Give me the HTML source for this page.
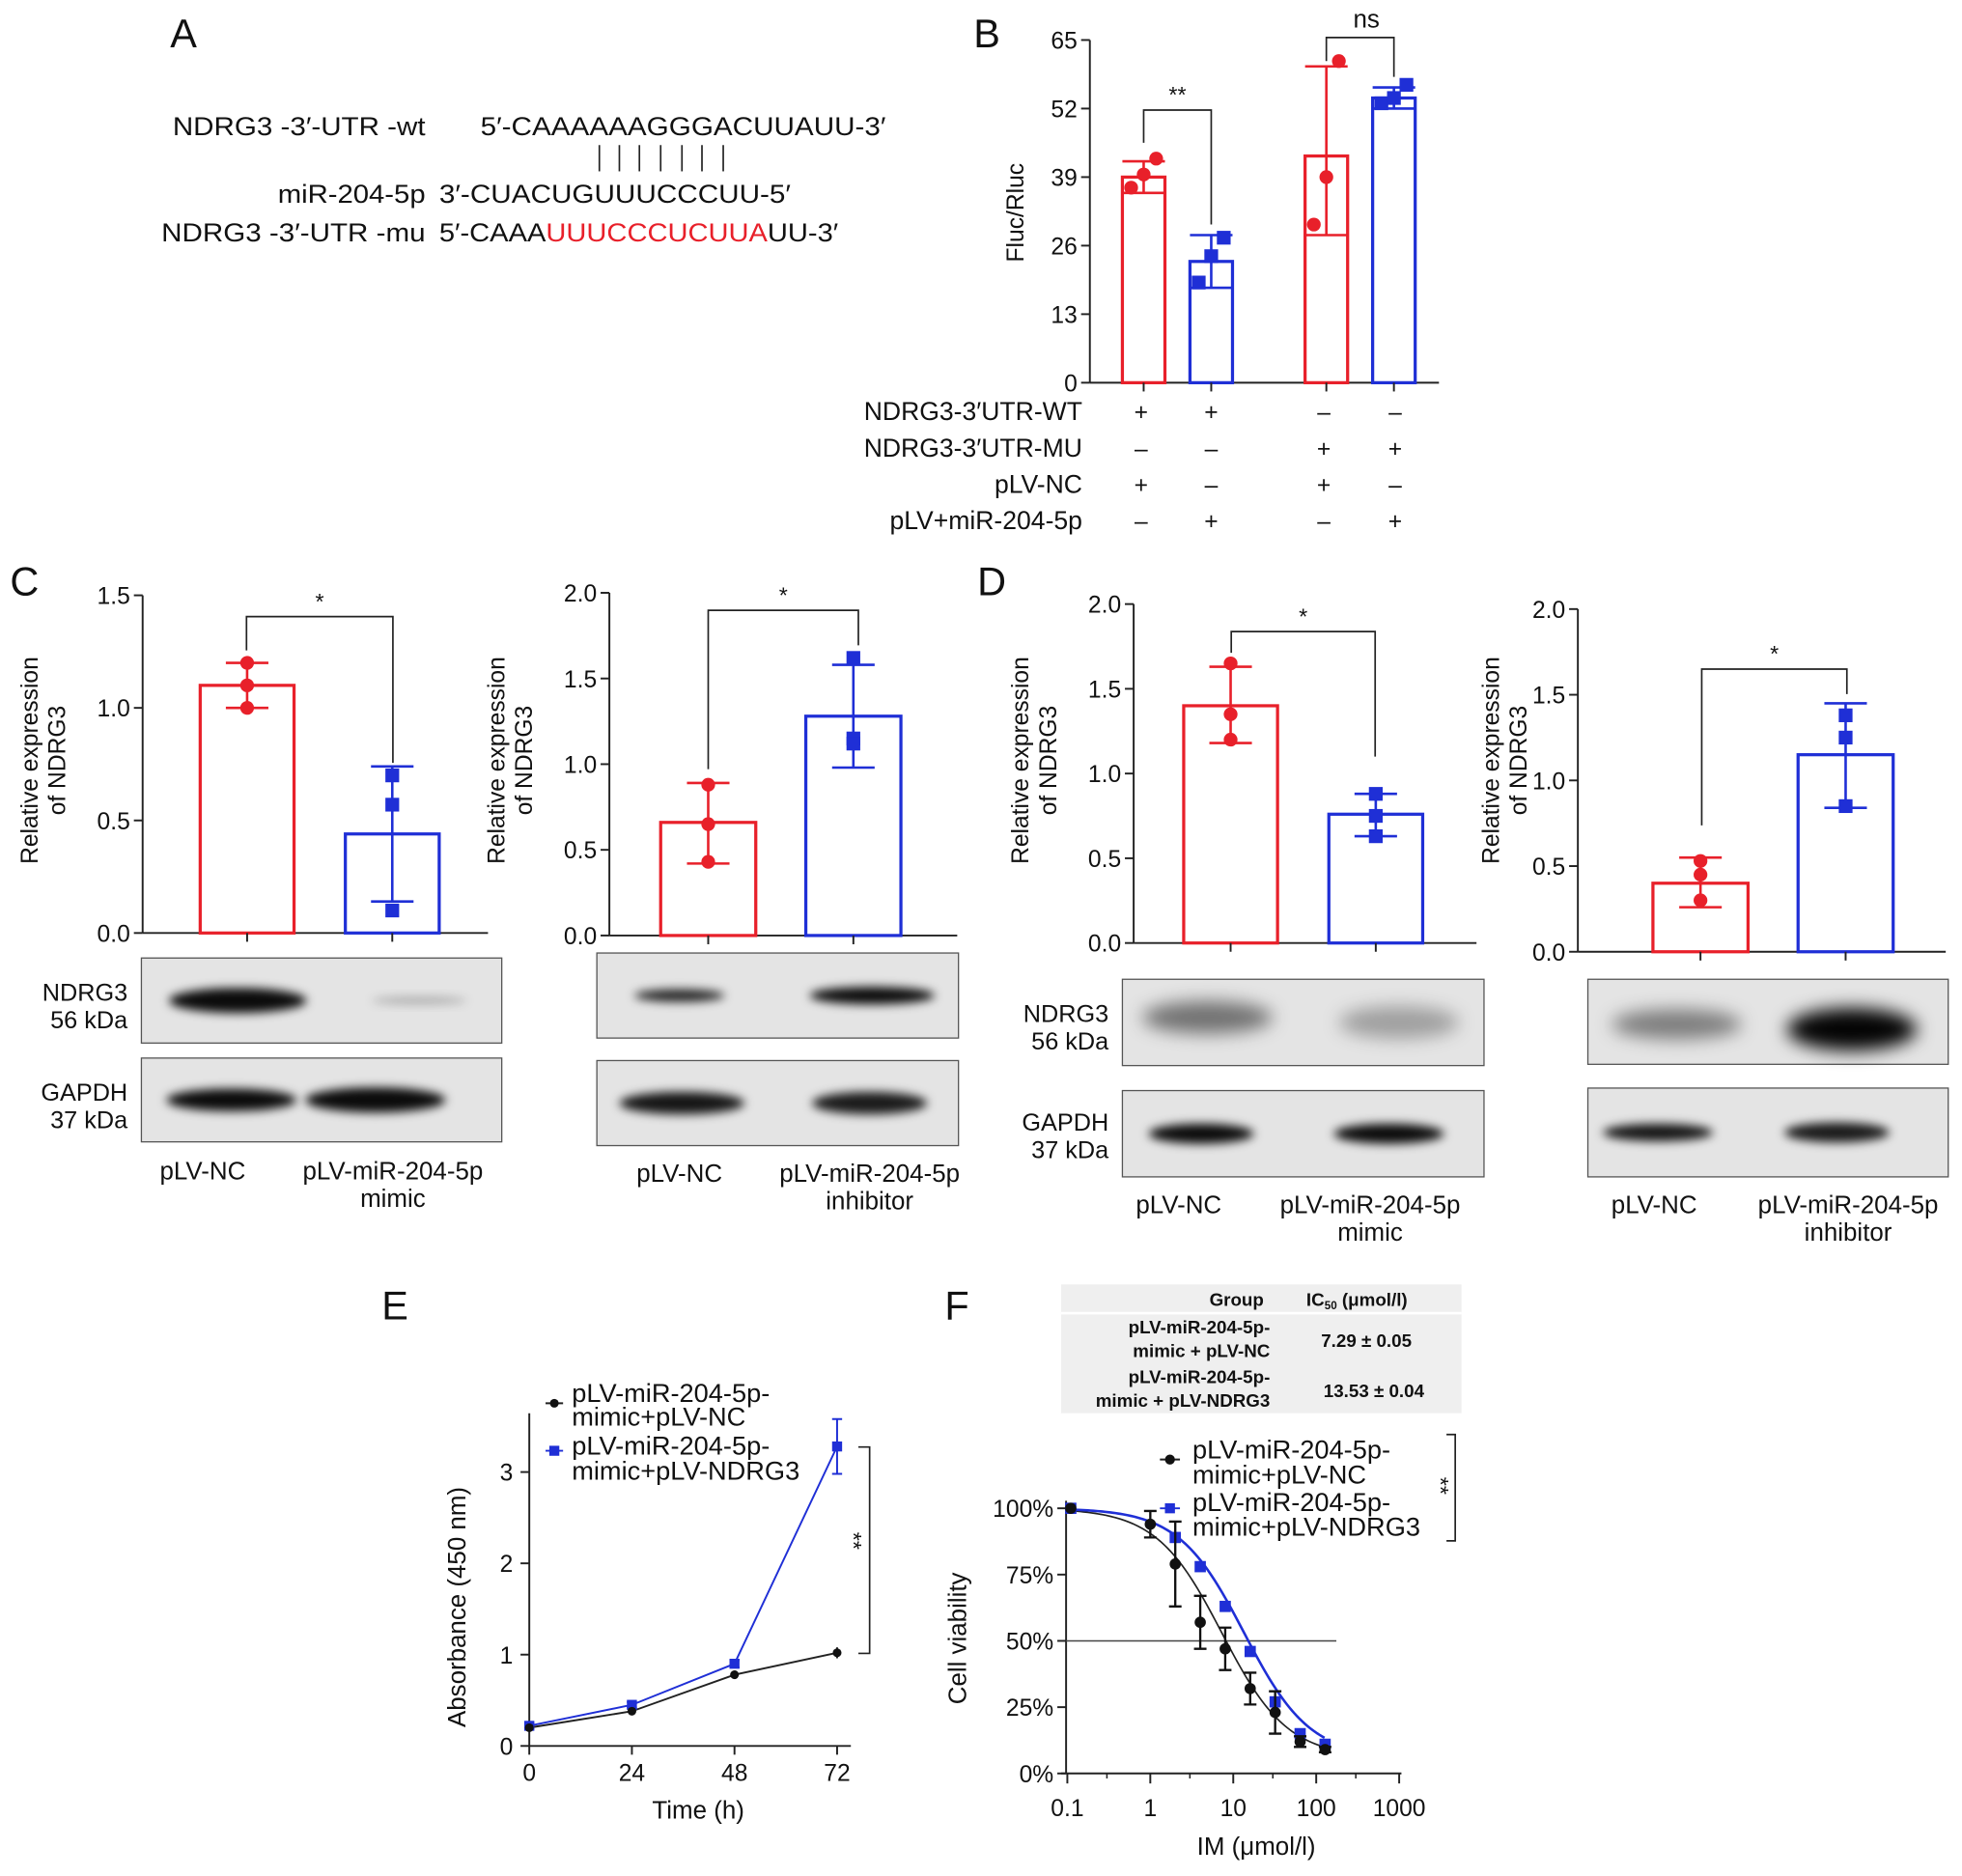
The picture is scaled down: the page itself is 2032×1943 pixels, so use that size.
<!DOCTYPE html>
<html><head><meta charset="utf-8">
<style>
html,body{margin:0;padding:0;background:#fff;}
svg{display:block;font-family:"Liberation Sans",Arial,sans-serif;}
</style></head>
<body>
<svg id="fig" width="2032" height="1943" viewBox="0 0 1568 1500" preserveAspectRatio="none" xmlns="http://www.w3.org/2000/svg">
<defs>
<filter id="blur" x="-20%" y="-100%" width="140%" height="300%"><feGaussianBlur stdDeviation="4"/></filter>
<filter id="blur2" x="-20%" y="-100%" width="140%" height="300%"><feGaussianBlur stdDeviation="7"/></filter>
</defs>
<!-- Panel A -->
<g font-size="21" fill="#111">
<text x="136" y="38" font-size="32">A</text>
<text x="138" y="108" textLength="202" lengthAdjust="spacingAndGlyphs">NDRG3 -3′-UTR -wt</text>
<text x="384" y="108" textLength="324" lengthAdjust="spacingAndGlyphs">5′-CAAAAAAGGGACUUAUU-3′</text>
<g stroke="#222" stroke-width="1.3">
<line x1="479" y1="116" x2="479" y2="137"/><line x1="495" y1="116" x2="495" y2="137"/><line x1="511" y1="116" x2="511" y2="137"/><line x1="528" y1="116" x2="528" y2="137"/><line x1="545" y1="116" x2="545" y2="137"/><line x1="561" y1="116" x2="561" y2="137"/><line x1="578" y1="116" x2="578" y2="137"/>
</g>
<text x="222" y="162" textLength="118" lengthAdjust="spacingAndGlyphs">miR-204-5p</text>
<text x="351" y="162" textLength="281" lengthAdjust="spacingAndGlyphs">3′-CUACUGUUUCCCUU-5′</text>
<text x="129" y="193" textLength="211" lengthAdjust="spacingAndGlyphs">NDRG3 -3′-UTR -mu</text>
<text x="351" y="193" textLength="319" lengthAdjust="spacingAndGlyphs">5′-CAAA<tspan fill="#e8202a">UUUCCCUCUUA</tspan>UU-3′</text>
</g>
<g id="charts"></g>
</svg>
<script>
// ---------- data ----------
const bLabels = ["WT+NC","WT+miR","MU+NC","MU+miR"];
const bMeans = [39, 23, 43, 54];
const bLow = [36, 18, 28, 52];
const bHigh = [42, 28, 60, 56];
const bPoints = [[37,39.5,42.5],[19,24,27.5],[30,39,61],[53,54,56.5]];
const bTicks = [0,13,26,39,52,65];

const c1Means = [1.1, 0.44];
const c1Err = [[1.0,1.2],[0.14,0.74]];
const c1Points = [[1.2,1.1,1.0],[0.7,0.57,0.1]];
const c2Means = [0.66, 1.28];
const c2Err = [[0.42,0.89],[0.98,1.58]];
const c2Points = [[0.88,0.65,0.43],[1.62,1.15,1.12]];
const d1Means = [1.4, 0.76];
const d1Err = [[1.18,1.63],[0.63,0.88]];
const d1Points = [[1.65,1.35,1.2],[0.88,0.75,0.63]];
const d2Means = [0.4, 1.15];
const d2Err = [[0.26,0.55],[0.84,1.45]];
const d2Points = [[0.53,0.45,0.3],[1.38,1.25,0.85]];

const eTimes = [0,24,48,72];
const eNC = [0.2,0.38,0.78,1.02];
const eNDRG3 = [0.22,0.45,0.9,3.28];
const eNDRG3Err = [0.03,0.03,0.04,0.3];
const eNCErr = [0.02,0.02,0.03,0.06];

const fDose = [0.11,1,2,4,8,16,32,64,128];
const fNC = [100,94,79,57,47,32,23,12,9];
const fNCErr = [0,5,16,10,8,6,8,2,1];
const fNDRG3Doses = [0.11,2,4,8,16,32,64,128];
const fNDRG3 = [100,89,78,63,46,27,15,11];
const fIC50 = [7.29, 13.53];

// ---------- helpers ----------
const NS="http://www.w3.org/2000/svg";
const root=document.getElementById('charts');
function mk(tag,attrs,parent){const e=document.createElementNS(NS,tag);for(const k in attrs)e.setAttribute(k,attrs[k]);(parent||root).appendChild(e);return e;}
function txt(x,y,s,attrs,parent){const e=mk('text',Object.assign({x:x,y:y,fill:'#111'},attrs||{}),parent);e.textContent=s;return e;}
const RED="#e8202a", BLUE="#1f2fd6";

function barChart(o){
  const g=mk('g',{});
  
  
  const y=v=>o.y0-(v/o.max)*(o.y0-o.yTop);
  const ax=mk('line',{x1:o.x0,y1:o.yTop,x2:o.x0,y2:o.y0,stroke:'#222','stroke-width':1.5},g);
  
  
  const xa=mk('line',{x1:o.x0,y1:o.y0,x2:o.xEnd,y2:o.y0,stroke:'#222','stroke-width':1.5},g);
  
  
  o.ticks.forEach(t=>{
    mk('line',{x1:o.x0-7,y1:y(t),x2:o.x0,y2:y(t),stroke:'#222','stroke-width':1.5},g);
    const tl=txt(o.x0-10,y(t)+7,o.tickFmt(t),{'text-anchor':'end','font-size':19},g);
    
    
  });
  o.means.forEach((m,i)=>{
    const col=o.colors[i], cx=o.bx[i]+o.bw/2;
    const r=mk('rect',{x:o.bx[i],y:y(m),width:o.bw,height:o.y0-y(m),fill:'none',stroke:col,'stroke-width':2.5},g);
    
    
    mk('line',{x1:cx,y1:o.y0,x2:cx,y2:o.y0+7,stroke:'#222','stroke-width':1.5},g);
    const [lo,hi]=o.err[i];
    const eb=mk('path',{d:`M${cx},${y(lo)}V${y(hi)}M${cx-17},${y(lo)}H${cx+17}M${cx-17},${y(hi)}H${cx+17}`,stroke:col,'stroke-width':2,fill:'none'},g);
    
    
    o.points[i].forEach((p,j)=>{
      const ox=[-10,0,10][j]*(o.jitter?1:0);
      let pt;
      if(col===RED) pt=mk('circle',{cx:cx+ox,cy:y(p),r:5.5,fill:col},g);
      else pt=mk('rect',{x:cx+ox-5.5,y:y(p)-5.5,width:11,height:11,fill:col},g);
      
      
    });
  });
  if(o.sig){
    const s=o.sig;
    const br=mk('path',{d:`M${s.x1},${s.y1}V${s.y}H${s.x2}V${s.y2}`,stroke:'#222','stroke-width':1.3,fill:'none'},g);
    
    
    const st=txt((s.x1+s.x2)/2,s.y-6,s.label,{'text-anchor':'middle','font-size':18},g);
    
    
  }
  if(o.ylab){
    const t=mk('text',{transform:`translate(${o.ylab.x},${o.ylab.y}) rotate(-90)`,'text-anchor':'middle','font-size':19,fill:'#111'},g);
    
    
    o.ylab.lines.forEach((l,k)=>{const ts=mk('tspan',{x:0,dy:k?22:0},t);ts.textContent=l;});
  }
  return g;
}

// Panel B
txt(778,38,'B',{'font-size':32});
barChart({name:'luciferase-chart',x0:871,xEnd:1150,y0:306,yTop:32,max:65,ticks:bTicks,tickFmt:t=>t,
  means:bMeans,err:bMeans.map((m,i)=>[bLow[i],bHigh[i]]),points:bPoints,colors:[RED,BLUE,RED,BLUE],
  bx:[897,951,1043,1097],bw:34,jitter:true,
  ylab:{x:818,y:170,lines:['Fluc/Rluc']}});
(function(){
  const y=v=>306-(v/65)*274;
  mk('path',{d:`M914,${y(45.5)}V88H968V${y(30)}`,stroke:'#222','stroke-width':1.3,fill:'none'});
  txt(941,82,'**',{'text-anchor':'middle','font-size':18});
  mk('path',{d:`M1060,${y(61)}V30H1114V${y(58)}`,stroke:'#222','stroke-width':1.3,fill:'none'});
  txt(1092,22,'ns',{'text-anchor':'middle','font-size':20});
  const rows=[['NDRG3-3′UTR-WT',['+','+','–','–']],['NDRG3-3′UTR-MU',['–','–','+','+']],['pLV-NC',['+','–','+','–']],['pLV+miR-204-5p',['–','+','–','+']]];
  const xs=[912,968,1058,1115];
  rows.forEach((r,i)=>{
    const yy=336+i*29;
    const l=txt(865,yy,r[0],{'text-anchor':'end','font-size':20.5});
    
    
    r[1].forEach((s,j)=>txt(xs[j],yy,s,{'text-anchor':'middle','font-size':19}));
  });
})();

// Panel C, D
txt(8,476,'C',{'font-size':32});
txt(781,476,'D',{'font-size':32});
const f1=t=>t.toFixed(1);
barChart({name:'c-mimic-chart',x0:114,xEnd:390,y0:746,yTop:476,max:1.5,ticks:[0,0.5,1.0,1.5],tickFmt:f1,
  means:c1Means,err:c1Err,points:c1Points,colors:[RED,BLUE],bx:[160,276],bw:75,jitter:false,
  sig:{x1:197,x2:314,y:493,y1:520,y2:610,label:'*'},ylab:{x:30,y:608,lines:['Relative expression','of NDRG3']}});
barChart({name:'c-inhibitor-chart',x0:487,xEnd:765,y0:748,yTop:474,max:2.0,ticks:[0,0.5,1.0,1.5,2.0],tickFmt:f1,
  means:c2Means,err:c2Err,points:c2Points,colors:[RED,BLUE],bx:[528,644],bw:76,jitter:false,
  sig:{x1:566,x2:686,y:488,y1:615,y2:516,label:'*'},ylab:{x:403,y:608,lines:['Relative expression','of NDRG3']}});
barChart({name:'d-mimic-chart',x0:906,xEnd:1180,y0:754,yTop:483,max:2.0,ticks:[0,0.5,1.0,1.5,2.0],tickFmt:f1,
  means:d1Means,err:d1Err,points:d1Points,colors:[RED,BLUE],bx:[946,1062],bw:75,jitter:false,
  sig:{x1:984,x2:1099,y:505,y1:522,y2:605,label:'*'},ylab:{x:822,y:608,lines:['Relative expression','of NDRG3']}});
barChart({name:'d-inhibitor-chart',x0:1261,xEnd:1555,y0:761,yTop:487,max:2.0,ticks:[0,0.5,1.0,1.5,2.0],tickFmt:f1,
  means:d2Means,err:d2Err,points:d2Points,colors:[RED,BLUE],bx:[1321,1437],bw:76,jitter:false,
  sig:{x1:1360,x2:1476,y:535,y1:660,y2:555,label:'*'},ylab:{x:1198,y:608,lines:['Relative expression','of NDRG3']}});

function blot(x,y,w,h,bands,name){
  const g=mk('g',{});
  
  
  mk('rect',{x:x,y:y,width:w,height:h,fill:'#e4e4e4',stroke:'#555','stroke-width':1},g);
  bands.forEach(b=>mk('ellipse',{cx:b[0],cy:y+h/2+(b[4]||0),rx:b[1],ry:b[2],fill:'#000','fill-opacity':b[3],filter:b[5]?'url(#blur2)':'url(#blur)'},g));
}
blot(113,766,288,68,[[190,55,10,0.95],[335,38,3,0.25]],'c-ndrg3-blot');
blot(113,846,288,67,[[185,52,9,0.95],[300,56,10,0.95]],'c-gapdh-blot');
blot(477,762,289,68,[[543,36,5,0.85],[697,50,7,0.95]],'c-inh-ndrg3-blot');
blot(477,848,289,68,[[545,50,9,0.9],[695,46,9,0.88]],'c-inh-gapdh-blot');
blot(897,783,289,69,[[965,52,13,0.5,-4,true],[1118,48,13,0.3,0,true]],'d-ndrg3-blot');
blot(897,872,289,69,[[960,42,8,0.95],[1110,44,8,0.95]],'d-gapdh-blot');
blot(1269,783,288,68,[[1340,52,12,0.45,2,true],[1480,52,17,0.98,6,true]],'d-inh-ndrg3-blot');
blot(1269,870,288,71,[[1325,44,7,0.9],[1468,42,8,0.88]],'d-inh-gapdh-blot');
[[102,800,'NDRG3','56 kDa'],[102,880,'GAPDH','37 kDa'],[886,817,'NDRG3','56 kDa'],[886,904,'GAPDH','37 kDa']].forEach(a=>{
  const t=txt(a[0],a[1],a[2],{'text-anchor':'end','font-size':19.5});
  
  
  txt(a[0],a[1]+22,a[3],{'text-anchor':'end','font-size':19.5});
});
[[162,943,'pLV-NC',null],[314,943,'pLV-miR-204-5p','mimic'],[543,945,'pLV-NC',null],[695,945,'pLV-miR-204-5p','inhibitor'],
 [942,970,'pLV-NC',null],[1095,970,'pLV-miR-204-5p','mimic'],[1322,970,'pLV-NC',null],[1477,970,'pLV-miR-204-5p','inhibitor']].forEach(a=>{
  const t=txt(a[0],a[1],a[2],{'text-anchor':'middle','font-size':20});
  
  
  if(a[3])txt(a[0],a[1]+22,a[3],{'text-anchor':'middle','font-size':20});
});

// Panel E
txt(305,1055,'E',{'font-size':32});
(function(){
  const g=mk('g',{});
  
  
  const X=t=>423+t/72*246, Y=v=>1396-v*73;
  mk('line',{x1:423,y1:1130,x2:423,y2:1396,stroke:'#222','stroke-width':1.5},g);
  mk('line',{x1:423,y1:1396,x2:680,y2:1396,stroke:'#222','stroke-width':1.5},g);
  [0,1,2,3].forEach(v=>{mk('line',{x1:416,y1:Y(v),x2:423,y2:Y(v),stroke:'#222','stroke-width':1.5},g);txt(410,Y(v)+7,String(v),{'text-anchor':'end','font-size':19},g);});
  eTimes.forEach(t=>{mk('line',{x1:X(t),y1:1396,x2:X(t),y2:1403,stroke:'#222','stroke-width':1.5},g);txt(X(t),1424,String(t),{'text-anchor':'middle','font-size':19},g);});
  const ln1=mk('polyline',{points:eTimes.map((t,i)=>X(t)+','+Y(eNC[i])).join(' '),fill:'none',stroke:'#222','stroke-width':1.5},g);
  
  
  const ln2=mk('polyline',{points:eTimes.map((t,i)=>X(t)+','+Y(eNDRG3[i])).join(' '),fill:'none',stroke:BLUE,'stroke-width':1.5},g);
  
  
  eTimes.forEach((t,i)=>{
    mk('path',{d:`M${X(t)},${Y(eNDRG3[i]-eNDRG3Err[i])}V${Y(eNDRG3[i]+eNDRG3Err[i])}M${X(t)-4},${Y(eNDRG3[i]-eNDRG3Err[i])}h8M${X(t)-4},${Y(eNDRG3[i]+eNDRG3Err[i])}h8`,stroke:BLUE,'stroke-width':1.5,fill:'none'},g);
    mk('path',{d:`M${X(t)},${Y(eNC[i]-eNCErr[i])}V${Y(eNC[i]+eNCErr[i])}`,stroke:'#222','stroke-width':1.5},g);
    const p=mk('rect',{x:X(t)-4,y:Y(eNDRG3[i])-4,width:8,height:8,fill:BLUE},g);
    
    
    const q=mk('circle',{cx:X(t),cy:Y(eNC[i]),r:3.5,fill:'#111'},g);
    
    
  });
  const lg=mk('g',{},g);
  
  
  mk('line',{x1:436,y1:1122,x2:450,y2:1122,stroke:'#222','stroke-width':1.5},lg);mk('circle',{cx:443,cy:1122,r:3.5,fill:'#111'},lg);
  txt(457,1121,'pLV-miR-204-5p-',{'font-size':21},lg);txt(457,1140,'mimic+pLV-NC',{'font-size':21},lg);
  mk('line',{x1:436,y1:1160,x2:450,y2:1160,stroke:BLUE,'stroke-width':1.5},lg);mk('rect',{x:439,y:1156,width:8,height:8,fill:BLUE},lg);
  txt(457,1163,'pLV-miR-204-5p-',{'font-size':21},lg);txt(457,1183,'mimic+pLV-NDRG3',{'font-size':21},lg);
  mk('path',{d:'M686,1157H695V1322H686',stroke:'#222','stroke-width':1.3,fill:'none'},g);
  txt(0,0,'**',{transform:'translate(676,1232) rotate(90)','text-anchor':'middle','font-size':18},g);
  txt(558,1454,'Time (h)',{'text-anchor':'middle','font-size':20},g);
  txt(0,0,'Absorbance (450 nm)',{transform:'translate(372,1285) rotate(-90)','text-anchor':'middle','font-size':20},g);
})();

// Panel F
txt(755,1055,'F',{'font-size':32});
(function(){
  const tg=mk('g',{});
  
  
  mk('rect',{x:848,y:1027,width:320,height:103,fill:'#efefef'},tg);
  mk('line',{x1:848,y1:1050,x2:1168,y2:1050,stroke:'#fff','stroke-width':2},tg);
  const b={'font-weight':'bold','font-size':14.5};
  txt(1010,1044,'Group',Object.assign({'text-anchor':'end'},b),tg);
  const h=txt(1044,1044,'IC',b,tg);const sub=mk('tspan',{'font-size':9,dy:3},h);sub.textContent='50';const h2=mk('tspan',{dy:-3},h);h2.textContent=' (μmol/l)';
  txt(1015,1066,'pLV-miR-204-5p-',Object.assign({'text-anchor':'end'},b),tg);
  txt(1015,1085,'mimic + pLV-NC',Object.assign({'text-anchor':'end'},b),tg);
  txt(1015,1106,'pLV-miR-204-5p-',Object.assign({'text-anchor':'end'},b),tg);
  txt(1015,1125,'mimic + pLV-NDRG3',Object.assign({'text-anchor':'end'},b),tg);
  txt(1092,1077,fIC50[0].toFixed(2)+' ± 0.05',Object.assign({'text-anchor':'middle'},b),tg);
  txt(1098,1117,fIC50[1].toFixed(2)+' ± 0.04',Object.assign({'text-anchor':'middle'},b),tg);

  const g=mk('g',{});
  
  
  const X=d=>853+(Math.log10(d)+1)*66.3, Y=v=>1418-v*2.12;
  mk('line',{x1:852,y1:1200,x2:852,y2:1418,stroke:'#222','stroke-width':1.5},g);
  mk('line',{x1:848,y1:1418,x2:1120,y2:1418,stroke:'#222','stroke-width':1.5},g);
  [0,25,50,75,100].forEach(v=>{mk('line',{x1:845,y1:Y(v),x2:852,y2:Y(v),stroke:'#222','stroke-width':1.5},g);txt(842,Y(v)+7,v+'%',{'text-anchor':'end','font-size':19},g);});
  [0.1,1,10,100,1000].forEach(d=>{mk('line',{x1:X(d),y1:1418,x2:X(d),y2:1426,stroke:'#222','stroke-width':1.5},g);txt(X(d),1452,String(d),{'text-anchor':'middle','font-size':19},g);});
  [0.3,3,30,300].forEach(d=>mk('line',{x1:X(d),y1:1418,x2:X(d),y2:1422,stroke:'#222','stroke-width':1.2},g));
  mk('line',{x1:852,y1:Y(50),x2:1068,y2:Y(50),stroke:'#444','stroke-width':1.2},g);
  const curve=(ic,col,name)=>{let pts=[];for(let l=-0.96;l<=2.11;l+=0.03){const d=Math.pow(10,l);const v=6+94/(1+Math.pow(d/ic,1.1));pts.push(X(d)+','+Y(v));}
    const c=mk('polyline',{points:pts.join(' '),fill:'none',stroke:col,'stroke-width':col==='#222'?1.3:2},g);
    
    };
  curve(fIC50[0],'#222','nc-fit-curve');curve(fIC50[1],BLUE,'ndrg3-fit-curve');
  fNDRG3Doses.forEach((d,i)=>{const p=mk('rect',{x:X(d)-4.5,y:Y(fNDRG3[i])-4.5,width:9,height:9,fill:BLUE},g);
    
    });
  fDose.forEach((d,i)=>{const e=fNCErr[i];
    if(e)mk('path',{d:`M${X(d)},${Y(fNC[i]-e)}V${Y(fNC[i]+e)}M${X(d)-5},${Y(fNC[i]-e)}h10M${X(d)-5},${Y(fNC[i]+e)}h10`,stroke:'#111','stroke-width':1.8,fill:'none'},g);
    const p=mk('circle',{cx:X(d),cy:Y(fNC[i]),r:4.5,fill:'#111'},g);
    
    });
  const lg=mk('g',{},g);
  
  
  mk('line',{x1:927,y1:1167,x2:943,y2:1167,stroke:'#222','stroke-width':1.5},lg);mk('circle',{cx:935,cy:1167,r:4,fill:'#111'},lg);
  txt(953,1166,'pLV-miR-204-5p-',{'font-size':21},lg);txt(953,1186,'mimic+pLV-NC',{'font-size':21},lg);
  mk('line',{x1:927,y1:1206,x2:943,y2:1206,stroke:BLUE,'stroke-width':1.5},lg);mk('rect',{x:931,y:1202,width:8,height:8,fill:BLUE},lg);
  txt(953,1208,'pLV-miR-204-5p-',{'font-size':21},lg);txt(953,1228,'mimic+pLV-NDRG3',{'font-size':21},lg);
  mk('path',{d:'M1156,1147H1163V1232H1156',stroke:'#222','stroke-width':1.3,fill:'none'},g);
  txt(0,0,'**',{transform:'translate(1145,1188) rotate(90)','text-anchor':'middle','font-size':18},g);
  txt(1004,1483,'IM (μmol/l)',{'text-anchor':'middle','font-size':20},g);
  txt(0,0,'Cell viability',{transform:'translate(772,1310) rotate(-90)','text-anchor':'middle','font-size':20},g);
})();
</script>
</body></html>
